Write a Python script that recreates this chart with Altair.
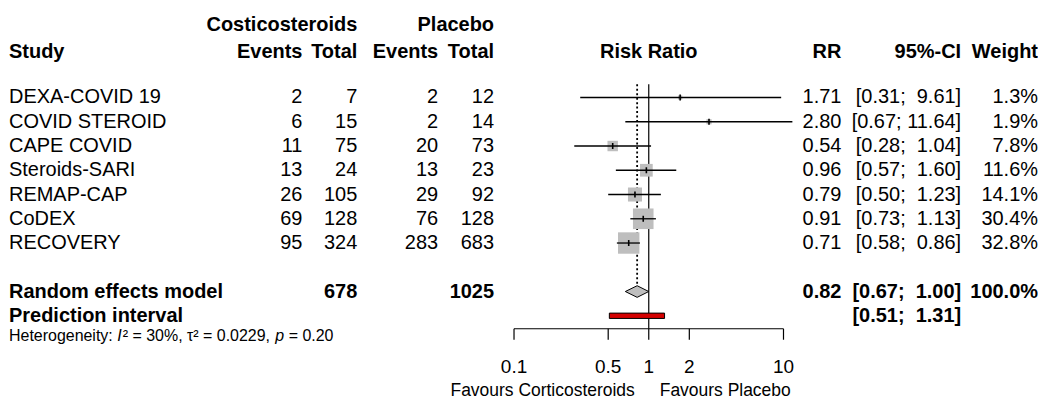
import altair as alt
import pandas as pd

# ---------------- data ----------------
studies = ["DEXA-COVID 19", "COVID STEROID", "CAPE COVID", "Steroids-SARI",
           "REMAP-CAP", "CoDEX", "RECOVERY"]
events_c = [2, 6, 11, 13, 26, 69, 95]
total_c = [7, 15, 75, 24, 105, 128, 324]
events_p = [2, 2, 20, 13, 29, 76, 283]
total_p = [12, 14, 73, 23, 92, 128, 683]
rr = [1.71, 2.80, 0.54, 0.96, 0.79, 0.91, 0.71]
ci_low = [0.31, 0.67, 0.28, 0.57, 0.50, 0.73, 0.58]
ci_high = [9.61, 11.64, 1.04, 1.60, 1.23, 1.13, 0.86]
weight = [1.3, 1.9, 7.8, 11.6, 14.1, 30.4, 32.8]

re_rr, re_low, re_high = 0.82, 0.67, 1.00
pi_low, pi_high = 0.51, 1.31
re_total_c, re_total_p = 678, 1025
axis_ticks = [0.1, 0.5, 1, 2, 10]
axis_labels = ["0.1", "0.5", "1", "2", "10"]
het_text = ["Heterogeneity:", "I", "\u00b2 = 30%, \u03c4\u00b2 = 0.0229,", "p", "= 0.20"]

# ---------------- style / layout ----------------
FONT = "Liberation Sans"
FS = 20
HS = 16
FAV_FS = 17.5
BLACK = "#000000"
GREY = "#BEBEBE"
RED = "#D40000"

X = alt.Scale(type="log", domain=[0.1, 10], range=[507, 777])
ROW_PX = 24.3
Y = alt.Scale(domain=[0, 10], range=[89.3, 89.3 + 10 * ROW_PX])
PLOT_H = 321
ROW_H1, ROW_H2 = -2.97, -1.87
ROW_RE, ROW_PI, ROW_HET = 8, 9, 9.85
REF_TOP = -0.55
AXIS_ROW = (PLOT_H - 89.3) / ROW_PX
TICK_LEN = 11 / ROW_PX
LABEL_ROW = (359 - 89.3) / ROW_PX
FAV_ROW = (383 - 89.3) / ROW_PX
DIAMOND_HALF = 0.24
PI_HALF = 0.11
COL = dict(study=1, ev_c=295, tot_c=350, ev_p=431, tot_p=487, rr=835, ci=955, w=1032)
NB = "\u00a0"


def fmt_ci(lo, hi):
    sep = NB if hi >= 10 else NB + NB
    return f"[{lo:.2f};{sep}{hi:.2f}]"


df = pd.DataFrame({
    "study": studies,
    "row": list(range(len(studies))),
    "ev_c": [str(v) for v in events_c],
    "tot_c": [str(v) for v in total_c],
    "ev_p": [str(v) for v in events_p],
    "tot_p": [str(v) for v in total_p],
    "rr": rr, "lo": ci_low, "hi": ci_high, "w": weight,
    "rr_s": [f"{v:.2f}" for v in rr],
    "ci_s": [fmt_ci(a, b) for a, b in zip(ci_low, ci_high)],
    "w_s": [f"{v:.1f}%" for v in weight],
})

yenc = alt.Y("row:Q", scale=Y, axis=None)


def text_layer(data, field, x_px, align, bold=False, size=FS, italic=False):
    return alt.Chart(data).mark_text(
        align=align, baseline="middle", font=FONT, fontSize=size,
        fontWeight="bold" if bold else "normal",
        fontStyle="italic" if italic else "normal", color=BLACK,
    ).encode(x=alt.value(x_px), y=yenc, text=f"{field}:N")


def single(text, row):
    return pd.DataFrame({"row": [row], "t": [text]})


layers = []

# reference line at 1 and dotted line at pooled estimate
ref_df = pd.DataFrame({"v": [1.0], "top": [REF_TOP], "bot": [AXIS_ROW]})
layers.append(alt.Chart(ref_df).mark_rule(color=BLACK, strokeWidth=1.2).encode(
    x=alt.X("v:Q", scale=X, axis=None), y=alt.Y("top:Q", scale=Y, axis=None), y2="bot:Q"))
dot_df = pd.DataFrame({"v": [re_rr], "top": [REF_TOP], "bot": [ROW_RE - DIAMOND_HALF]})
layers.append(alt.Chart(dot_df).mark_rule(color=BLACK, strokeWidth=1.8, strokeDash=[2, 2.5]).encode(
    x=alt.X("v:Q", scale=X, axis=None), y=alt.Y("top:Q", scale=Y, axis=None), y2="bot:Q"))

# squares
layers.append(alt.Chart(df).mark_square(color=GREY, opacity=1).encode(
    x=alt.X("rr:Q", scale=X, axis=None), y=yenc,
    size=alt.Size("w:Q", scale=alt.Scale(domain=[0, 100], range=[0, 1400]), legend=None)))

# CI lines
layers.append(alt.Chart(df).mark_rule(color=BLACK, strokeWidth=1.3).encode(
    x=alt.X("lo:Q", scale=X, axis=None), x2="hi:Q", y=yenc))

# estimate marks
layers.append(alt.Chart(df).mark_point(shape="M0,-1L0,1", size=36, filled=False, color=BLACK,
                                       strokeWidth=1.6, opacity=1).encode(
    x=alt.X("rr:Q", scale=X, axis=None), y=yenc))

# diamond for the random effects model
dia_df = pd.DataFrame({"x": [re_low, re_rr, re_high],
                       "y1": [ROW_RE, ROW_RE - DIAMOND_HALF, ROW_RE],
                       "y2": [ROW_RE, ROW_RE + DIAMOND_HALF, ROW_RE]})
layers.append(alt.Chart(dia_df).mark_area(fill=GREY, stroke=BLACK, strokeWidth=1, orient="vertical",
                                          interpolate="linear", opacity=1).encode(
    x=alt.X("x:Q", scale=X, axis=None), y=alt.Y("y1:Q", scale=Y, axis=None), y2="y2:Q"))

# prediction interval bar
pi_df = pd.DataFrame({"lo": [pi_low], "hi": [pi_high], "top": [ROW_PI - PI_HALF], "bot": [ROW_PI + PI_HALF]})
layers.append(alt.Chart(pi_df).mark_rect(fill=RED, stroke=BLACK, strokeWidth=1).encode(
    x=alt.X("lo:Q", scale=X, axis=None), x2="hi:Q",
    y=alt.Y("top:Q", scale=Y, axis=None), y2="bot:Q"))

# x axis (log scale): domain line, ticks and labels through the x scale
dom_df = pd.DataFrame({"a": [axis_ticks[0]], "b": [axis_ticks[-1]], "row": [AXIS_ROW]})
layers.append(alt.Chart(dom_df).mark_rule(color=BLACK, strokeWidth=1.2).encode(
    x=alt.X("a:Q", scale=X, axis=None), x2="b:Q", y=yenc))
tick_df = pd.DataFrame({"v": axis_ticks, "lab": axis_labels,
                        "top": [AXIS_ROW] * len(axis_ticks),
                        "bot": [AXIS_ROW + TICK_LEN] * len(axis_ticks),
                        "row": [LABEL_ROW] * len(axis_ticks)})
layers.append(alt.Chart(tick_df).mark_rule(color=BLACK, strokeWidth=1.2).encode(
    x=alt.X("v:Q", scale=X, axis=None), y=alt.Y("top:Q", scale=Y, axis=None), y2="bot:Q"))
layers.append(alt.Chart(tick_df).mark_text(align="center", baseline="middle", font=FONT, fontSize=19,
                                           color=BLACK).encode(
    x=alt.X("v:Q", scale=X, axis=None), y=yenc, text="lab:N"))

# headers
layers += [
    text_layer(single("Costicosteroids", ROW_H1), "t", COL["tot_c"], "right", bold=True),
    text_layer(single("Placebo", ROW_H1), "t", COL["tot_p"], "right", bold=True),
    text_layer(single("Study", ROW_H2), "t", COL["study"], "left", bold=True),
    text_layer(single("Events", ROW_H2), "t", COL["ev_c"], "right", bold=True),
    text_layer(single("Total", ROW_H2), "t", COL["tot_c"], "right", bold=True),
    text_layer(single("Events", ROW_H2), "t", COL["ev_p"], "right", bold=True),
    text_layer(single("Total", ROW_H2), "t", COL["tot_p"], "right", bold=True),
    text_layer(single("RR", ROW_H2), "t", COL["rr"], "right", bold=True),
    text_layer(single("95%-CI", ROW_H2), "t", COL["ci"], "right", bold=True),
    text_layer(single("Weight", ROW_H2), "t", COL["w"], "right", bold=True),
]
rr_head = pd.DataFrame({"v": [1.0], "row": [ROW_H2], "t": ["Risk Ratio"]})
layers.append(alt.Chart(rr_head).mark_text(align="center", baseline="middle", font=FONT, fontSize=FS,
                                           fontWeight="bold", color=BLACK).encode(
    x=alt.X("v:Q", scale=X, axis=None), y=yenc, text="t:N"))

# study rows
layers += [
    text_layer(df, "study", COL["study"], "left"),
    text_layer(df, "ev_c", COL["ev_c"], "right"),
    text_layer(df, "tot_c", COL["tot_c"], "right"),
    text_layer(df, "ev_p", COL["ev_p"], "right"),
    text_layer(df, "tot_p", COL["tot_p"], "right"),
    text_layer(df, "rr_s", COL["rr"], "right"),
    text_layer(df, "ci_s", COL["ci"], "right"),
    text_layer(df, "w_s", COL["w"], "right"),
]

# pooled rows
layers += [
    text_layer(single("Random effects model", ROW_RE), "t", COL["study"], "left", bold=True),
    text_layer(single(str(re_total_c), ROW_RE), "t", COL["tot_c"], "right", bold=True),
    text_layer(single(str(re_total_p), ROW_RE), "t", COL["tot_p"], "right", bold=True),
    text_layer(single(f"{re_rr:.2f}", ROW_RE), "t", COL["rr"], "right", bold=True),
    text_layer(single(fmt_ci(re_low, re_high), ROW_RE), "t", COL["ci"], "right", bold=True),
    text_layer(single("100.0%", ROW_RE), "t", COL["w"], "right", bold=True),
    text_layer(single("Prediction interval", ROW_PI), "t", COL["study"], "left", bold=True),
    text_layer(single(fmt_ci(pi_low, pi_high), ROW_PI), "t", COL["ci"], "right", bold=True),
]

# heterogeneity line (mixed styles)
AW = {'H': 722, 'e': 556, 't': 278, 'r': 333, 'o': 556, 'g': 556, 'n': 556, 'i': 222, 'y': 500,
      ':': 278, ' ': 278, '\u00b2': 333, '=': 584, '3': 556, '0': 556, '%': 889, ',': 278,
      '\u03c4': 440, '.': 278, '2': 556, '9': 556, 'p': 556, 'I': 278}


def tw(s, fs):
    return sum(AW.get(c, 556) for c in s) * fs / 1000.0


hx = COL["study"]
pos = []
for i, seg in enumerate(het_text):
    pos.append(hx)
    hx += tw(seg + " ", HS) + (1 if i == 1 else 0)
    if i == 1:
        hx -= tw(" ", HS)
for i, seg in enumerate(het_text):
    layers.append(text_layer(single(seg, ROW_HET), "t", pos[i], "left", size=HS, italic=(i in (1, 3))))

# favours labels
fav = pd.DataFrame({"v": [1.0], "row": [FAV_ROW], "l": ["Favours Corticosteroids"], "r": ["Favours Placebo"]})
layers.append(alt.Chart(fav).mark_text(align="right", baseline="middle", font=FONT, fontSize=FAV_FS,
                                       color=BLACK, dx=-14).encode(
    x=alt.X("v:Q", scale=X, axis=None), y=yenc, text="l:N"))
layers.append(alt.Chart(fav).mark_text(align="left", baseline="middle", font=FONT, fontSize=FAV_FS,
                                       color=BLACK, dx=11).encode(
    x=alt.X("v:Q", scale=X, axis=None), y=yenc, text="r:N"))

chart = alt.layer(*layers).properties(
    width=1032, height=PLOT_H, padding=0, background="white"
).configure_view(stroke=None)

chart.save("out.html", embed_options={"renderer": "svg", "actions": False})
